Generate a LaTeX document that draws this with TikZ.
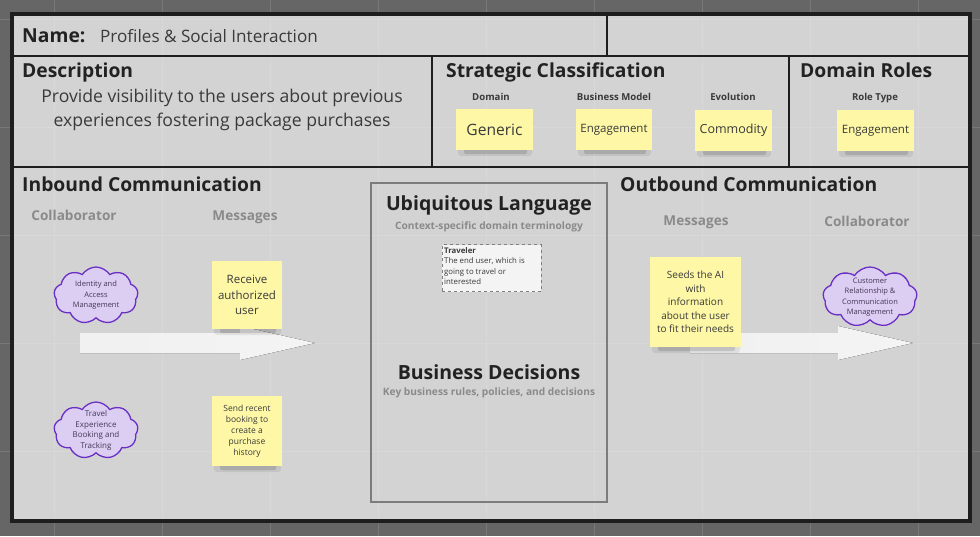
\documentclass[tikz,border=0pt]{standalone}
\usepackage{fontspec}
\setmainfont{Open Sans}
\usetikzlibrary{shapes.symbols,calc}
\definecolor{bg}{HTML}{666666}
\definecolor{panel}{HTML}{D3D3D3}
\definecolor{framecol}{HTML}{1E1E1E}
\definecolor{stickycol}{HTML}{FDF7A6}
\definecolor{cloudfill}{HTML}{DCCDF2}
\definecolor{cloudline}{HTML}{6A2FC4}
\definecolor{subgray}{HTML}{8A8A8A}
\definecolor{ink}{HTML}{222222}
\definecolor{softink}{HTML}{3A3A3A}
\definecolor{arrowcol}{HTML}{F4F4F4}
\tikzset{
  heading/.style={anchor=base west,inner sep=0,text=ink,font=\bfseries\fontsize{19.3}{23}\selectfont},
  smalllabel/.style={anchor=base,inner sep=0,text=softink,font=\bfseries\fontsize{9.6}{11}\selectfont},
  colhead/.style={anchor=base,inner sep=0,text=subgray,font=\bfseries\fontsize{13.6}{16}\selectfont},
  stickybox/.style={fill=stickycol,inner sep=0,align=center,text=softink},
  cloudshape/.style={cloud,cloud puffs=9,cloud puff arc=115,cloud ignores aspect,draw=cloudline,fill=cloudfill,line width=1.3pt,inner sep=0},
  cloudtext/.style={align=center,inner sep=0,text=softink!80!cloudline,font=\fontsize{7.5}{10.5}\selectfont},
  divider/.style={draw=framecol,line width=1.6pt},
  blockarrow/.style={left color=arrowcol!97!gray,right color=arrowcol,draw=none},
}
\newcommand\stickynote[8]{%
  \fill[black,opacity=0.07,rounded corners=3pt] (#2+2,#5-3) rectangle (#4-1,#5+6);
  \fill[black,opacity=0.13,rounded corners=2pt] (#2+8,#5-2) rectangle (#4-6,#5+4);
  \node[stickybox,minimum width={#4-#2},minimum height={#5-#3},font=\fontsize{#6}{#7}\selectfont] (#1) at ({(#2+#4)/2},{(#3+#5)/2}) {#8};
}
\begin{document}
\begin{tikzpicture}[x=1pt,y=-1pt]
\useasboundingbox (0,0) rectangle (980,536);
\fill[bg] (0,0) rectangle (980,536);
\fill[panel] (12,14) rectangle (970,521);
% faint grid
\foreach \gx in {54,162,270,378,486,594,702,810,918}
  \draw[white,opacity=0.12,line width=0.8pt] (\gx,0) -- (\gx,536);
\foreach \gy in {19,127,235,343,451}
  \draw[white,opacity=0.12,line width=0.8pt] (0,\gy) -- (980,\gy);
% dividers
\draw[divider] (12,56) -- (970,56);
\draw[divider] (12,167) -- (970,167);
\draw[divider] (607,14) -- (607,56);
\draw[divider] (432,56) -- (432,167);
\draw[divider] (789,56) -- (789,167);
\draw[draw=framecol,line width=3.5pt] (12,14) rectangle (970,521);

% Name row
\node[heading] (namelbl) at (22,42) {Name:};
\node[anchor=base west,inner sep=0,text=softink,font=\fontsize{17.1}{20}\selectfont] (nameval) at (100,42) {Profiles \& Social Interaction};

% Description
\node[heading] (desclbl) at (22,77) {Description};
\node[anchor=base,inner sep=0,text=softink,font=\fontsize{17.6}{20}\selectfont] (desc1) at (222,102) {Provide visibility to the users about previous};
\node[anchor=base,inner sep=0,text=softink,font=\fontsize{17.6}{20}\selectfont] (desc2) at (222,126) {experiences fostering package purchases};

% Strategic Classification
\node[heading] (stratlbl) at (446,77) {Strategic Classification};
\node[smalllabel] (domlbl) at (491,100) {Domain};
\node[smalllabel] (bmlbl) at (614,100) {Business Model};
\node[smalllabel] (evlbl) at (733,100) {Evolution};
\stickynote{s1}{456}{109}{533}{150}{15.6}{18}{Generic}
\stickynote{s2}{576}{109}{652}{150}{11.5}{14}{Engagement}
\stickynote{s3}{695}{110}{772}{151}{12.5}{15}{Commodity}

% Domain Roles
\node[heading] (rolelbl) at (800,77) {Domain Roles};
\node[smalllabel] (rtlbl) at (875,100) {Role Type};
\stickynote{s4}{837}{110}{914}{151}{11.5}{14}{Engagement}

% Inbound
\node[heading] (inlbl) at (22,191) {Inbound Communication};
\node[colhead] (incol) at (74,220) {Collaborator};
\node[colhead] (inmsg) at (245,220) {Messages};

% inbound arrow
\coordinate (ina) at (80,343);
\coordinate (inb) at (315,343);
\fill[blockarrow] ($(ina)+(0,-10)$) -- ($(inb)+(-75,-10)$) -- ($(inb)+(-75,-17)$) -- (inb) -- ($(inb)+(-75,17)$) -- ($(inb)+(-75,10)$) -- ($(ina)+(0,10)$) -- cycle;

\node[cloudshape,minimum width=84,minimum height=57] (c1) at (96,295.5) {};
\node[cloudtext] (c1t) at (c1.center) {Identity and\\Access\\Management};
\node[cloudshape,minimum width=84,minimum height=57] (c2) at (96,430.5) {};
\node[cloudtext,font=\fontsize{8}{10.5}\selectfont] (c2t) at (c2.center) {Travel\\Experience\\Booking and\\Tracking};

\stickynote{m1}{212}{261}{282}{329}{11.5}{15.5}{Receive\\authorized\\user}
\stickynote{m2}{212}{396}{282}{466}{8.5}{11}{Send recent\\booking to\\create a\\purchase\\history}

% central box
\draw[draw=subgray!90!black,line width=1.6pt] (371,183) rectangle (607,502);
\node[anchor=base,inner sep=0,text=ink,font=\bfseries\fontsize{19.5}{23}\selectfont] (ullbl) at (489,210) {Ubiquitous Language};
\node[anchor=base,inner sep=0,text=subgray,font=\bfseries\fontsize{10.2}{12}\selectfont] (ulsub) at (489,229) {Context-specific domain terminology};
\node[draw=gray,dashed,fill=arrowcol,line width=0.7pt,minimum width=99,minimum height=47,inner sep=0] (trav) at (491.5,268) {};
\node[anchor=north west,inner sep=0,align=left,text=softink,font=\fontsize{7.8}{10.5}\selectfont] (travt) at (444,247) {\textbf{Traveler}\\The end user, which is\\going to travel or\\interested};
\node[anchor=base,inner sep=0,text=ink,font=\bfseries\fontsize{19.5}{23}\selectfont] (bdlbl) at (489,379) {Business Decisions};
\node[anchor=base,inner sep=0,text=subgray,font=\bfseries\fontsize{10.2}{12}\selectfont] (bdsub) at (489,395) {Key business rules, policies, and decisions};

% Outbound
\node[heading] (outlbl) at (620,191) {Outbound Communication};
\node[colhead] (outmsg) at (696,225) {Messages};
\node[colhead] (outcol) at (867,226) {Collaborator};

\coordinate (outa) at (690,343);
\coordinate (outb) at (913,343);
\fill[blockarrow] ($(outa)+(0,-10)$) -- ($(outb)+(-75,-10)$) -- ($(outb)+(-75,-17)$) -- (outb) -- ($(outb)+(-75,17)$) -- ($(outb)+(-75,10)$) -- ($(outa)+(0,10)$) -- cycle;

\stickynote{m3}{650}{257}{741}{347}{10}{13.5}{Seeds the AI\\with\\information\\about the user\\to fit their needs}

\node[cloudshape,minimum width=94,minimum height=60] (c3) at (870,297) {};
\node[cloudtext] (c3t) at (c3.center) {Customer\\Relationship \&\\Communication\\Management};
\end{tikzpicture}
\end{document}
